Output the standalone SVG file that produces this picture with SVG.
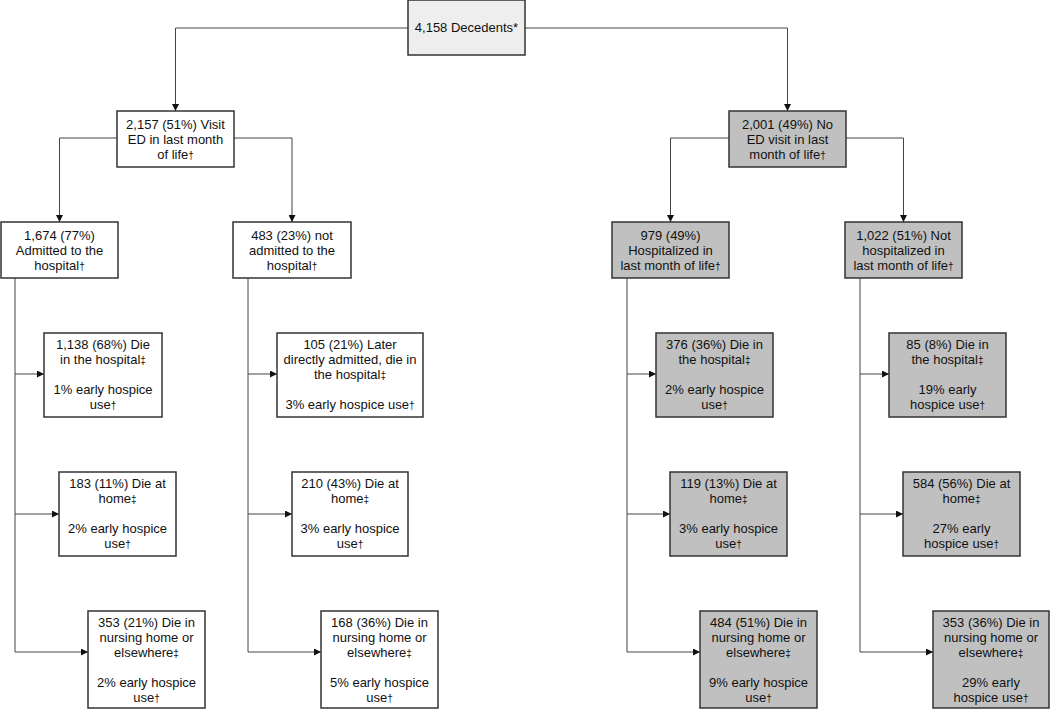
<svg xmlns="http://www.w3.org/2000/svg" width="1050" height="709" viewBox="0 0 1050 709">
<style>
.box{stroke:#333;stroke-width:1.5}
.w{fill:#fff}
.g{fill:#c0c0c0}
.t{fill:#eeeeee}
text{font-family:"Liberation Sans",Arial,sans-serif;font-size:13px;fill:#111;text-anchor:middle}
.d{font-size:10px}
.c{fill:none;stroke:#444;stroke-width:1}
</style>
<defs>
<marker id="a" markerUnits="userSpaceOnUse" markerWidth="7" markerHeight="7" refX="7" refY="3.5" orient="auto">
<path d="M0,0 L7,3.5 L0,7 z" fill="#111"/>
</marker>
</defs>
<rect width="1050" height="709" fill="#fff"/>
<g id="connectors">
<path class="c" d="M408,28 H175.5 V111" marker-end="url(#a)"/>
<path class="c" d="M525,28 H787.5 V111" marker-end="url(#a)"/>
<path class="c" d="M117,138 H59.5 V222" marker-end="url(#a)"/>
<path class="c" d="M234,138 H292 V222" marker-end="url(#a)"/>
<path class="c" d="M729,138 H670.5 V222" marker-end="url(#a)"/>
<path class="c" d="M846,138 H903.5 V222" marker-end="url(#a)"/>
<path class="c" d="M15,278 V652"/>
<path class="c" d="M15,374 H44" marker-end="url(#a)"/>
<path class="c" d="M15,514 H59" marker-end="url(#a)"/>
<path class="c" d="M15,652 H88" marker-end="url(#a)"/>
<path class="c" d="M248,278 V652"/>
<path class="c" d="M248,374 H277" marker-end="url(#a)"/>
<path class="c" d="M248,514 H292" marker-end="url(#a)"/>
<path class="c" d="M248,652 H321" marker-end="url(#a)"/>
<path class="c" d="M627,278 V652"/>
<path class="c" d="M627,374 H656" marker-end="url(#a)"/>
<path class="c" d="M627,514 H670" marker-end="url(#a)"/>
<path class="c" d="M627,652 H700" marker-end="url(#a)"/>
<path class="c" d="M860,278 V652"/>
<path class="c" d="M860,374 H889" marker-end="url(#a)"/>
<path class="c" d="M860,514 H903" marker-end="url(#a)"/>
<path class="c" d="M860,652 H933" marker-end="url(#a)"/>
</g>
<g id="n-root">
<rect class="box t" x="408" y="0" width="117" height="55"/>
<text x="466.5" y="32">4,158 Decedents*</text>
</g>
<g id="n-ed">
<rect class="box w" x="117" y="111" width="117" height="56"/>
<text x="175.5" y="128.5">2,157 (51%) Visit</text>
<text x="175.5" y="143.5">ED in last month</text>
<text x="175.5" y="158.5">of life<tspan class="d">†</tspan></text>
</g>
<g id="n-noed">
<rect class="box g" x="729" y="111" width="117" height="56"/>
<text x="787.5" y="128.5">2,001 (49%) No</text>
<text x="787.5" y="143.5">ED visit in last</text>
<text x="787.5" y="158.5">month of life<tspan class="d">†</tspan></text>
</g>
<g id="n-adm">
<rect class="box w" x="1" y="222" width="117" height="56"/>
<text x="59.5" y="239.5">1,674 (77%)</text>
<text x="59.5" y="254.5">Admitted to the</text>
<text x="59.5" y="269.5">hospital<tspan class="d">†</tspan></text>
</g>
<g id="n-notadm">
<rect class="box w" x="233" y="222" width="118" height="56"/>
<text x="292" y="239.5">483 (23%) not</text>
<text x="292" y="254.5">admitted to the</text>
<text x="292" y="269.5">hospital<tspan class="d">†</tspan></text>
</g>
<g id="n-hosp">
<rect class="box g" x="612" y="222" width="117" height="56"/>
<text x="670.5" y="239.5">979 (49%)</text>
<text x="670.5" y="254.5">Hospitalized in</text>
<text x="670.5" y="269.5">last month of life<tspan class="d">†</tspan></text>
</g>
<g id="n-nothosp">
<rect class="box g" x="845" y="222" width="117" height="56"/>
<text x="903.5" y="239.5">1,022 (51%) Not</text>
<text x="903.5" y="254.5">hospitalized in</text>
<text x="903.5" y="269.5">last month of life<tspan class="d">†</tspan></text>
</g>
<g id="n-a1">
<rect class="box w" x="44" y="333" width="118" height="84"/>
<text x="103" y="349">1,138 (68%) Die</text>
<text x="103" y="364">in the hospital<tspan class="d">‡</tspan></text>
<text x="103" y="394">1% early hospice</text>
<text x="103" y="409">use<tspan class="d">†</tspan></text>
</g>
<g id="n-a2">
<rect class="box w" x="59" y="472" width="117" height="84"/>
<text x="117.5" y="488">183 (11%) Die at</text>
<text x="117.5" y="503">home<tspan class="d">‡</tspan></text>
<text x="117.5" y="533">2% early hospice</text>
<text x="117.5" y="548">use<tspan class="d">†</tspan></text>
</g>
<g id="n-a3">
<rect class="box w" x="88" y="611" width="117" height="97"/>
<text x="146.5" y="627">353 (21%) Die in</text>
<text x="146.5" y="642">nursing home or</text>
<text x="146.5" y="657">elsewhere<tspan class="d">‡</tspan></text>
<text x="146.5" y="687">2% early hospice</text>
<text x="146.5" y="702">use<tspan class="d">†</tspan></text>
</g>
<g id="n-b1">
<rect class="box w" x="277" y="333" width="146" height="84"/>
<text x="350" y="349">105 (21%) Later</text>
<text x="350" y="364">directly admitted, die in</text>
<text x="350" y="379">the hospital<tspan class="d">‡</tspan></text>
<text x="350" y="409">3% early hospice use<tspan class="d">†</tspan></text>
</g>
<g id="n-b2">
<rect class="box w" x="292" y="472" width="116" height="84"/>
<text x="350" y="488">210 (43%) Die at</text>
<text x="350" y="503">home<tspan class="d">‡</tspan></text>
<text x="350" y="533">3% early hospice</text>
<text x="350" y="548">use<tspan class="d">†</tspan></text>
</g>
<g id="n-b3">
<rect class="box w" x="321" y="611" width="117" height="97"/>
<text x="379.5" y="627">168 (36%) Die in</text>
<text x="379.5" y="642">nursing home or</text>
<text x="379.5" y="657">elsewhere<tspan class="d">‡</tspan></text>
<text x="379.5" y="687">5% early hospice</text>
<text x="379.5" y="702">use<tspan class="d">†</tspan></text>
</g>
<g id="n-c1">
<rect class="box g" x="656" y="333" width="117" height="84"/>
<text x="714.5" y="349">376 (36%) Die in</text>
<text x="714.5" y="364">the hospital<tspan class="d">‡</tspan></text>
<text x="714.5" y="394">2% early hospice</text>
<text x="714.5" y="409">use<tspan class="d">†</tspan></text>
</g>
<g id="n-c2">
<rect class="box g" x="670" y="472" width="117" height="84"/>
<text x="728.5" y="488">119 (13%) Die at</text>
<text x="728.5" y="503">home<tspan class="d">‡</tspan></text>
<text x="728.5" y="533">3% early hospice</text>
<text x="728.5" y="548">use<tspan class="d">†</tspan></text>
</g>
<g id="n-c3">
<rect class="box g" x="700" y="611" width="117" height="97"/>
<text x="758.5" y="627">484 (51%) Die in</text>
<text x="758.5" y="642">nursing home or</text>
<text x="758.5" y="657">elsewhere<tspan class="d">‡</tspan></text>
<text x="758.5" y="687">9% early hospice</text>
<text x="758.5" y="702">use<tspan class="d">†</tspan></text>
</g>
<g id="n-d1">
<rect class="box g" x="889" y="333" width="117" height="84"/>
<text x="947.5" y="349">85 (8%) Die in</text>
<text x="947.5" y="364">the hospital<tspan class="d">‡</tspan></text>
<text x="947.5" y="394">19% early</text>
<text x="947.5" y="409">hospice use<tspan class="d">†</tspan></text>
</g>
<g id="n-d2">
<rect class="box g" x="903" y="472" width="117" height="84"/>
<text x="961.5" y="488">584 (56%) Die at</text>
<text x="961.5" y="503">home<tspan class="d">‡</tspan></text>
<text x="961.5" y="533">27% early</text>
<text x="961.5" y="548">hospice use<tspan class="d">†</tspan></text>
</g>
<g id="n-d3">
<rect class="box g" x="933" y="611" width="116" height="97"/>
<text x="991" y="627">353 (36%) Die in</text>
<text x="991" y="642">nursing home or</text>
<text x="991" y="657">elsewhere<tspan class="d">‡</tspan></text>
<text x="991" y="687">29% early</text>
<text x="991" y="702">hospice use<tspan class="d">†</tspan></text>
</g>
</svg>
